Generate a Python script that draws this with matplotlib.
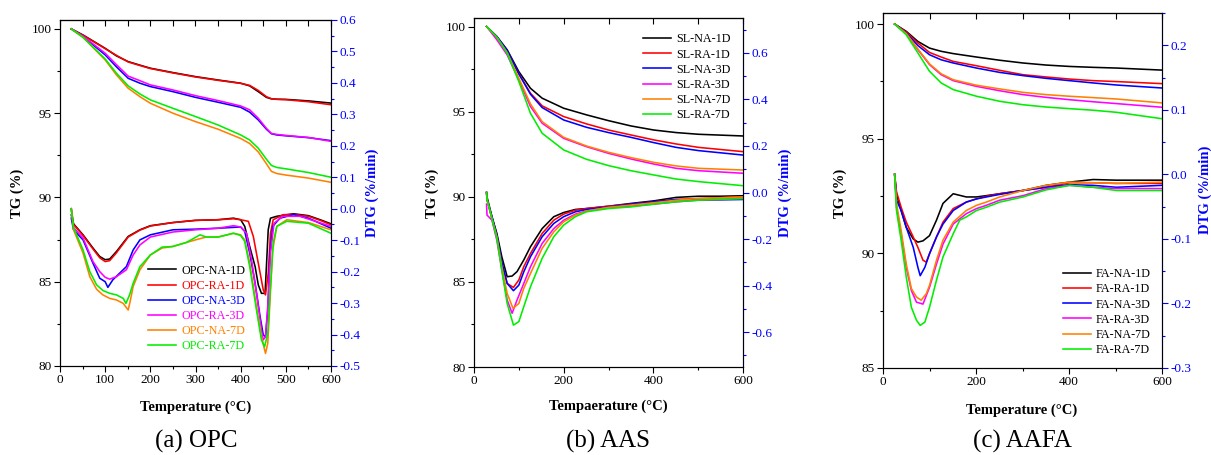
import matplotlib
matplotlib.use("Agg")
import matplotlib.pyplot as plt
from matplotlib.ticker import MultipleLocator

plt.rcParams['font.family'] = ['Liberation Serif', 'DejaVu Sans']
plt.rcParams['axes.unicode_minus'] = False

COLORS = ['#000000', '#FF0000', '#0000FF', '#FF00FF', '#FF8000', '#00EE00']

# ---------------- Panel (a) OPC ----------------
opc_labels = ['OPC-NA-1D', 'OPC-RA-1D', 'OPC-NA-3D', 'OPC-RA-3D', 'OPC-NA-7D', 'OPC-RA-7D']
opc_tg_t = [25, 51, 100, 125, 151, 177, 200, 250, 300, 350, 400, 420, 439, 457, 468, 480, 500, 550, 600]
opc_tg_na1 = [100, 99.64, 98.85, 98.4, 98.06, 97.85, 97.67, 97.41, 97.17, 96.97, 96.78, 96.62, 96.28, 95.94, 95.85, 95.83, 95.82, 95.73, 95.6]
opc_tg_ra1 = [100, 99.62, 98.83, 98.43, 98.04, 97.83, 97.65, 97.39, 97.15, 96.95, 96.77, 96.65, 96.35, 95.98, 95.86, 95.82, 95.8, 95.68, 95.5]
opc_tg_na3 = [100, 99.55, 98.46, 97.75, 97.07, 96.78, 96.58, 96.28, 95.94, 95.65, 95.35, 95.06, 94.6, 94.05, 93.78, 93.71, 93.66, 93.55, 93.37]
opc_tg_ra3 = [100, 99.57, 98.56, 97.88, 97.2, 96.93, 96.68, 96.38, 96.04, 95.75, 95.43, 95.2, 94.7, 94.1, 93.8, 93.74, 93.68, 93.56, 93.33]
opc_tg_na7 = [100, 99.5, 98.16, 97.27, 96.48, 95.98, 95.59, 95.0, 94.5, 94.05, 93.5, 93.2, 92.7, 92.0, 91.55, 91.42, 91.33, 91.15, 90.9]
opc_tg_ra7 = [100, 99.5, 98.22, 97.37, 96.62, 96.14, 95.79, 95.29, 94.8, 94.3, 93.71, 93.41, 92.92, 92.27, 91.9, 91.78, 91.7, 91.48, 91.2]

opc_dtg_t_na1 = [25, 30, 51, 73, 88, 100, 110, 125, 151, 177, 200, 250, 300, 350, 384, 400, 409, 420, 432, 439, 446, 454, 457, 461, 466, 480, 517, 550, 576, 600]
opc_dtg_na1 = [-0.02, -0.048, -0.083, -0.125, -0.152, -0.162, -0.160, -0.136, -0.088, -0.067, -0.054, -0.044, -0.037, -0.035, -0.030, -0.035, -0.056, -0.120, -0.184, -0.242, -0.269, -0.269, -0.184, -0.067, -0.030, -0.024, -0.016, -0.022, -0.035, -0.048]
opc_dtg_t_ra1 = [25, 30, 51, 73, 88, 100, 110, 125, 151, 177, 200, 250, 300, 350, 384, 400, 417, 428, 439, 450, 455, 461, 466, 472, 494, 517, 550, 576, 600]
opc_dtg_ra1 = [0.0, -0.05, -0.085, -0.128, -0.156, -0.168, -0.165, -0.140, -0.090, -0.068, -0.055, -0.044, -0.037, -0.035, -0.032, -0.035, -0.040, -0.088, -0.173, -0.258, -0.274, -0.205, -0.078, -0.035, -0.019, -0.018, -0.024, -0.037, -0.051]
opc_dtg_t_na3 = [25, 30, 51, 73, 88, 100, 106, 117, 132, 147, 162, 177, 200, 250, 300, 350, 400, 409, 420, 432, 443, 450, 455, 460, 465, 471, 487, 517, 550, 600]
opc_dtg_na3 = [-0.03, -0.067, -0.099, -0.173, -0.221, -0.232, -0.250, -0.226, -0.205, -0.184, -0.131, -0.099, -0.083, -0.067, -0.065, -0.062, -0.058, -0.072, -0.141, -0.237, -0.343, -0.401, -0.407, -0.322, -0.141, -0.056, -0.030, -0.019, -0.030, -0.062]
opc_dtg_t_ra3 = [25, 30, 51, 73, 88, 100, 110, 125, 147, 162, 177, 200, 250, 300, 350, 384, 400, 413, 424, 435, 446, 450, 455, 461, 466, 474, 494, 531, 600]
opc_dtg_ra3 = [0.0, -0.06, -0.093, -0.168, -0.200, -0.218, -0.224, -0.216, -0.194, -0.147, -0.115, -0.090, -0.074, -0.067, -0.062, -0.054, -0.058, -0.078, -0.162, -0.269, -0.385, -0.417, -0.407, -0.290, -0.141, -0.046, -0.024, -0.024, -0.056]
opc_dtg_t_na7 = [25, 30, 51, 66, 81, 95, 110, 125, 140, 151, 156, 162, 177, 200, 226, 250, 300, 324, 350, 384, 400, 409, 420, 435, 446, 455, 460, 465, 471, 480, 502, 550, 600]
opc_dtg_na7 = [0.0, -0.067, -0.141, -0.216, -0.256, -0.274, -0.285, -0.290, -0.301, -0.322, -0.290, -0.247, -0.194, -0.147, -0.125, -0.120, -0.099, -0.090, -0.090, -0.078, -0.083, -0.099, -0.173, -0.311, -0.407, -0.460, -0.428, -0.290, -0.131, -0.056, -0.035, -0.044, -0.067]
opc_dtg_t_ra7 = [25, 30, 51, 66, 81, 95, 110, 125, 140, 146, 154, 162, 177, 200, 226, 250, 280, 310, 324, 350, 384, 400, 409, 420, 435, 446, 453, 460, 466, 472, 480, 502, 550, 600]
opc_dtg_ra7 = [0.0, -0.06, -0.131, -0.200, -0.242, -0.260, -0.269, -0.274, -0.285, -0.301, -0.274, -0.237, -0.184, -0.147, -0.122, -0.120, -0.107, -0.083, -0.090, -0.090, -0.078, -0.085, -0.104, -0.184, -0.322, -0.417, -0.439, -0.396, -0.247, -0.109, -0.056, -0.040, -0.046, -0.078]

# ---------------- Panel (b) AAS ----------------
sl_labels = ['SL-NA-1D', 'SL-RA-1D', 'SL-NA-3D', 'SL-RA-3D', 'SL-NA-7D', 'SL-RA-7D']
sl_tg_t = [28, 51, 74, 100, 126, 152, 200, 251, 300, 350, 401, 451, 501, 600]
sl_tg_na1 = [100, 99.41, 98.63, 97.35, 96.37, 95.79, 95.2, 94.81, 94.47, 94.16, 93.92, 93.77, 93.67, 93.57]
sl_tg_ra1 = [100, 99.37, 98.53, 97.22, 96.08, 95.34, 94.71, 94.28, 93.92, 93.63, 93.34, 93.1, 92.9, 92.65]
sl_tg_na3 = [100, 99.41, 98.59, 97.22, 96.02, 95.24, 94.51, 94.08, 93.77, 93.49, 93.18, 92.9, 92.71, 92.45]
sl_tg_ra3 = [100, 99.22, 98.33, 96.86, 95.3, 94.32, 93.43, 92.94, 92.55, 92.22, 91.92, 91.67, 91.53, 91.38]
sl_tg_na7 = [100, 99.37, 98.47, 96.96, 95.45, 94.41, 93.49, 92.98, 92.61, 92.3, 92.02, 91.81, 91.67, 91.57]
sl_tg_ra7 = [100, 99.37, 98.43, 96.77, 94.9, 93.73, 92.75, 92.2, 91.83, 91.53, 91.28, 91.04, 90.89, 90.65]

sl_dtg_t_na1 = [28, 29, 40, 51, 62, 74, 85, 96, 111, 126, 152, 178, 200, 226, 251, 300, 350, 401, 451, 501, 550, 600]
sl_dtg_na1 = [0.0, -0.019, -0.104, -0.176, -0.276, -0.362, -0.359, -0.340, -0.290, -0.233, -0.155, -0.104, -0.086, -0.073, -0.069, -0.059, -0.047, -0.036, -0.021, -0.016, -0.016, -0.014]
sl_dtg_t_ra1 = [28, 29, 40, 51, 62, 74, 88, 100, 111, 126, 152, 178, 200, 226, 251, 300, 350, 401, 451, 501, 600]
sl_dtg_ra1 = [0.0, -0.03, -0.112, -0.190, -0.305, -0.391, -0.408, -0.376, -0.319, -0.262, -0.176, -0.119, -0.093, -0.076, -0.069, -0.059, -0.050, -0.040, -0.030, -0.026, -0.019]
sl_dtg_t_na3 = [28, 29, 40, 51, 62, 74, 88, 100, 111, 126, 152, 178, 200, 226, 251, 300, 350, 401, 451, 501, 600]
sl_dtg_na3 = [0.0, -0.03, -0.104, -0.183, -0.298, -0.391, -0.422, -0.398, -0.341, -0.276, -0.190, -0.133, -0.104, -0.083, -0.073, -0.062, -0.050, -0.040, -0.030, -0.033, -0.030]
sl_dtg_t_ra3 = [28, 29, 40, 51, 62, 74, 85, 96, 111, 126, 152, 178, 200, 226, 251, 300, 350, 401, 451, 501, 600]
sl_dtg_ra3 = [-0.05, -0.097, -0.119, -0.205, -0.333, -0.462, -0.519, -0.462, -0.391, -0.319, -0.219, -0.155, -0.119, -0.093, -0.079, -0.064, -0.059, -0.050, -0.040, -0.033, -0.026]
sl_dtg_t_na7 = [28, 29, 40, 51, 62, 74, 87, 100, 111, 126, 152, 178, 200, 226, 251, 300, 350, 401, 451, 501, 600]
sl_dtg_na7 = [0.0, -0.03, -0.112, -0.190, -0.319, -0.434, -0.498, -0.477, -0.412, -0.348, -0.240, -0.169, -0.126, -0.097, -0.080, -0.064, -0.054, -0.044, -0.033, -0.026, -0.019]
sl_dtg_t_ra7 = [28, 29, 40, 51, 62, 74, 88, 100, 111, 126, 152, 178, 200, 226, 251, 300, 350, 401, 451, 501, 600]
sl_dtg_ra7 = [0.0, -0.03, -0.112, -0.197, -0.333, -0.477, -0.570, -0.555, -0.491, -0.405, -0.283, -0.190, -0.140, -0.104, -0.083, -0.069, -0.062, -0.050, -0.040, -0.033, -0.026]

# ---------------- Panel (c) AAFA ----------------
fa_labels = ['FA-NA-1D', 'FA-RA-1D', 'FA-NA-3D', 'FA-RA-3D', 'FA-NA-7D', 'FA-RA-7D']
fa_tg_t = [25, 50, 75, 100, 125, 151, 201, 251, 301, 351, 401, 452, 502, 600]
fa_tg_na1 = [100, 99.68, 99.24, 98.95, 98.81, 98.71, 98.56, 98.42, 98.3, 98.21, 98.15, 98.11, 98.08, 97.99]
fa_tg_ra1 = [100, 99.65, 99.17, 98.76, 98.56, 98.37, 98.18, 97.98, 97.79, 97.69, 97.6, 97.53, 97.49, 97.4]
fa_tg_na3 = [100, 99.61, 99.06, 98.66, 98.44, 98.3, 98.08, 97.89, 97.75, 97.63, 97.53, 97.43, 97.34, 97.21]
fa_tg_ra3 = [100, 99.58, 98.88, 98.23, 97.79, 97.53, 97.28, 97.09, 96.92, 96.8, 96.7, 96.61, 96.53, 96.37]
fa_tg_na7 = [100, 99.58, 98.91, 98.26, 97.83, 97.57, 97.33, 97.17, 97.02, 96.92, 96.85, 96.79, 96.73, 96.56]
fa_tg_ra7 = [100, 99.53, 98.74, 97.94, 97.43, 97.14, 96.85, 96.63, 96.48, 96.38, 96.31, 96.24, 96.15, 95.87]

fa_dtg_t_na1 = [25, 29, 39, 50, 65, 75, 86, 100, 115, 129, 151, 179, 201, 222, 251, 301, 351, 401, 452, 502, 600]
fa_dtg_na1 = [0.0, -0.030, -0.056, -0.082, -0.100, -0.105, -0.103, -0.095, -0.071, -0.045, -0.030, -0.035, -0.035, -0.033, -0.030, -0.025, -0.017, -0.012, -0.008, -0.009, -0.009]
fa_dtg_t_ra1 = [25, 29, 39, 50, 65, 75, 86, 93, 100, 115, 129, 151, 179, 201, 222, 251, 301, 351, 401, 452, 502, 600]
fa_dtg_ra1 = [0.0, -0.027, -0.051, -0.074, -0.097, -0.113, -0.133, -0.136, -0.123, -0.097, -0.074, -0.053, -0.043, -0.038, -0.034, -0.030, -0.025, -0.020, -0.013, -0.013, -0.014, -0.014]
fa_dtg_t_na3 = [25, 29, 39, 50, 65, 75, 80, 90, 100, 115, 129, 151, 179, 201, 251, 301, 351, 401, 452, 502, 600]
fa_dtg_na3 = [0.0, -0.040, -0.056, -0.082, -0.113, -0.144, -0.157, -0.144, -0.123, -0.097, -0.077, -0.056, -0.043, -0.038, -0.031, -0.025, -0.020, -0.016, -0.017, -0.020, -0.017]
fa_dtg_t_ra3 = [25, 29, 39, 50, 61, 72, 86, 100, 115, 129, 151, 179, 201, 222, 251, 301, 351, 401, 452, 502, 600]
fa_dtg_ra3 = [0.0, -0.051, -0.092, -0.144, -0.180, -0.198, -0.201, -0.175, -0.139, -0.108, -0.077, -0.061, -0.053, -0.048, -0.040, -0.033, -0.022, -0.017, -0.020, -0.022, -0.022]
fa_dtg_t_na7 = [25, 29, 39, 50, 61, 72, 82, 93, 100, 115, 129, 151, 179, 201, 222, 251, 301, 351, 401, 452, 502, 600]
fa_dtg_na7 = [0.0, -0.045, -0.087, -0.139, -0.177, -0.190, -0.195, -0.185, -0.172, -0.133, -0.102, -0.074, -0.056, -0.048, -0.043, -0.035, -0.025, -0.017, -0.012, -0.013, -0.014, -0.012]
fa_dtg_t_ra7 = [25, 29, 39, 50, 61, 72, 80, 90, 100, 115, 129, 151, 165, 179, 201, 222, 251, 301, 351, 401, 452, 502, 600]
fa_dtg_ra7 = [0.0, -0.056, -0.102, -0.159, -0.206, -0.226, -0.234, -0.229, -0.206, -0.164, -0.128, -0.092, -0.071, -0.066, -0.056, -0.051, -0.043, -0.035, -0.024, -0.017, -0.020, -0.025, -0.025]

W, H = 1211, 455
fig = plt.figure(figsize=(W / 100, H / 100), dpi=100)


def px_axes(l, t, r, b):
    return fig.add_axes([l / W, 1 - b / H, (r - l) / W, (b - t) / H])


def make_panel(box, tg_lim, tg_major, tg_minor, dtg_lim, dtg_major, dtg_minor,
               x_major, x_minor, tg_t, tg_series, dtg_series, labels, legend_kw,
               colored_legend, xlabel, xlabel_pos, tglab_pos, dtglab_pos, caption, cap_pos):
    ax = px_axes(*box)
    ax2 = ax.twinx()
    lw = 1.15
    handles = []
    for i, ys in enumerate(tg_series):
        h, = ax.plot(tg_t, ys, color=COLORS[i], lw=lw)
        handles.append(h)
    for i, (xs, ys) in enumerate(dtg_series):
        ax2.plot(xs, ys, color=COLORS[i], lw=lw)
    ax.set_xlim(0, 600)
    ax.set_ylim(*tg_lim)
    ax2.set_ylim(*dtg_lim)
    ax.xaxis.set_major_locator(MultipleLocator(x_major))
    ax.xaxis.set_minor_locator(MultipleLocator(x_minor))
    ax.yaxis.set_major_locator(MultipleLocator(tg_major))
    ax.yaxis.set_minor_locator(MultipleLocator(tg_minor))
    ax2.yaxis.set_major_locator(MultipleLocator(dtg_major))
    ax2.yaxis.set_minor_locator(MultipleLocator(dtg_minor))
    ax2.yaxis.set_major_formatter(matplotlib.ticker.FormatStrFormatter('%.1f'))
    ax.tick_params(axis='both', which='major', direction='out', length=4, width=0.8,
                   labelsize=9.5, pad=2)
    ax.tick_params(axis='both', which='minor', direction='out', length=2.2, width=0.8)
    ax2.tick_params(axis='y', which='major', direction='out', length=4, width=0.8,
                    labelsize=9.5, colors='blue', pad=2)
    ax2.tick_params(axis='y', which='minor', direction='out', length=2.2, width=0.8,
                    colors='blue')
    ax2.spines['right'].set_color('blue')
    sec = ax.secondary_xaxis('top')
    sec.xaxis.set_major_locator(MultipleLocator(x_major))
    sec.xaxis.set_minor_locator(MultipleLocator(x_minor))
    sec.tick_params(axis='x', which='both', direction='in', labeltop=False, width=0.8)
    sec.tick_params(axis='x', which='major', length=4)
    sec.tick_params(axis='x', which='minor', length=4)
    ax.legend(handles, labels, frameon=False, fontsize=8.7, handlelength=2.3,
              handletextpad=0.4, labelspacing=0.26, borderpad=0.2,
              labelcolor='linecolor' if colored_legend else None, **legend_kw)
    ax.set_zorder(ax2.get_zorder() + 1)
    ax.patch.set_visible(False)
    fig.text(xlabel_pos[0] / W, 1 - xlabel_pos[1] / H, xlabel, ha='center', va='center',
             fontsize=10.5, fontweight='bold')
    fig.text(tglab_pos[0] / W, 1 - tglab_pos[1] / H, 'TG (%)', ha='center', va='center',
             rotation=90, fontsize=10.5, fontweight='bold')
    fig.text(dtglab_pos[0] / W, 1 - dtglab_pos[1] / H, 'DTG (%/min)', ha='center',
             va='center', rotation=90, fontsize=10.5, fontweight='bold', color='blue')
    fig.text(cap_pos[0] / W, 1 - cap_pos[1] / H, caption, ha='center', va='center',
             fontsize=18)
    return ax, ax2


make_panel((60, 20, 331, 366), (80, 100.53), 5, 2.5, (-0.5, 0.6), 0.1, 0.05, 100, 50,
           opc_tg_t,
           [opc_tg_na1, opc_tg_ra1, opc_tg_na3, opc_tg_ra3, opc_tg_na7, opc_tg_ra7],
           [(opc_dtg_t_na1, opc_dtg_na1), (opc_dtg_t_ra1, opc_dtg_ra1),
            (opc_dtg_t_na3, opc_dtg_na3), (opc_dtg_t_ra3, opc_dtg_ra3),
            (opc_dtg_t_na7, opc_dtg_na7), (opc_dtg_t_ra7, opc_dtg_ra7)],
           opc_labels, dict(loc='lower left', bbox_to_anchor=(0.295, 0.015)), True,
           'Temperature (°C)', (196, 407), (17, 193), (372, 193), '(a) OPC', (196, 441))

make_panel((474, 18, 743, 367), (80, 100.5), 5, 2.5, (-0.75, 0.75), 0.2, 0.1, 200, 100,
           sl_tg_t,
           [sl_tg_na1, sl_tg_ra1, sl_tg_na3, sl_tg_ra3, sl_tg_na7, sl_tg_ra7],
           [(sl_dtg_t_na1, sl_dtg_na1), (sl_dtg_t_ra1, sl_dtg_ra1),
            (sl_dtg_t_na3, sl_dtg_na3), (sl_dtg_t_ra3, sl_dtg_ra3),
            (sl_dtg_t_na7, sl_dtg_na7), (sl_dtg_t_ra7, sl_dtg_ra7)],
           sl_labels, dict(loc='upper right', bbox_to_anchor=(0.985, 0.98)), False,
           'Tempaerature (°C)', (608, 406), (432, 193), (785, 193), '(b) AAS', (608, 441))

make_panel((883, 13, 1162, 368), (85, 100.48), 5, 2.5, (-0.3, 0.25), 0.1, 0.05, 200, 100,
           fa_tg_t,
           [fa_tg_na1, fa_tg_ra1, fa_tg_na3, fa_tg_ra3, fa_tg_na7, fa_tg_ra7],
           [(fa_dtg_t_na1, fa_dtg_na1), (fa_dtg_t_ra1, fa_dtg_ra1),
            (fa_dtg_t_na3, fa_dtg_na3), (fa_dtg_t_ra3, fa_dtg_ra3),
            (fa_dtg_t_na7, fa_dtg_na7), (fa_dtg_t_ra7, fa_dtg_ra7)],
           fa_labels, dict(loc='lower right', bbox_to_anchor=(0.99, 0.01)), False,
           'Temperature (°C)', (1022, 410), (840, 193), (1205, 190), '(c) AAFA', (1022, 441))

fig.savefig('out.png', dpi=100)
